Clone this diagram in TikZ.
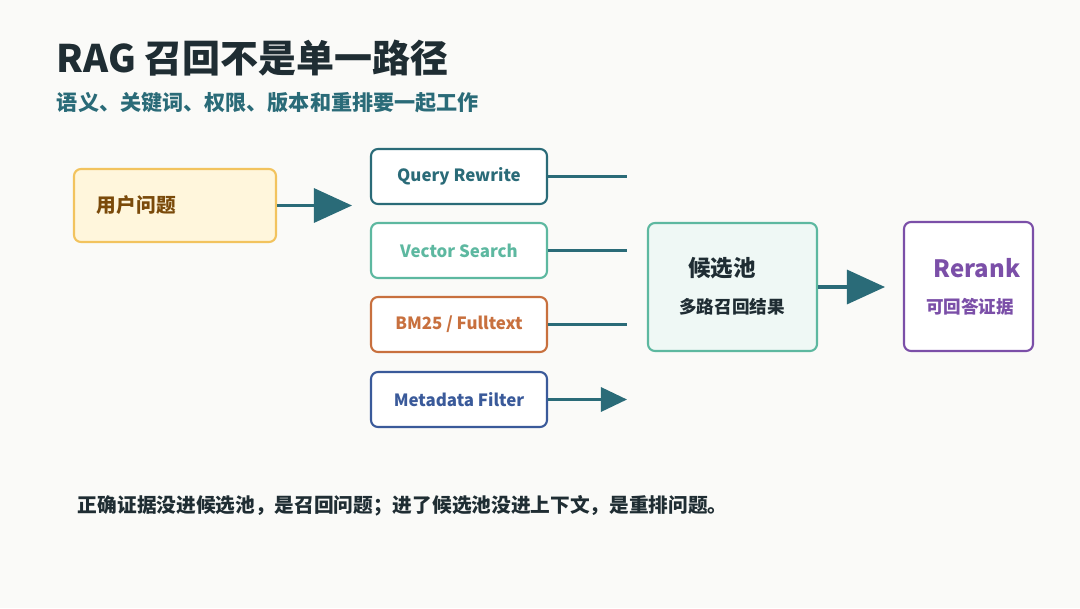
\documentclass[tikz,border=0pt]{standalone}
\usepackage{fontspec}
\setmainfont{Noto Sans CJK SC}
\usepackage{tikz}
\usetikzlibrary{arrows.meta, positioning}
\definecolor{bgc}{HTML}{FAFAF8}
\definecolor{ink}{HTML}{1F2D33}
\definecolor{teal}{HTML}{2A6B78}
\definecolor{mint}{HTML}{5DB8A0}
\definecolor{rust}{HTML}{C8703E}
\definecolor{navy}{HTML}{3A5A9A}
\definecolor{plum}{HTML}{7B4FA8}
\definecolor{sand}{HTML}{F2C35E}
\definecolor{cream}{HTML}{FFF6DC}
\definecolor{umber}{HTML}{7A4A0A}
\tikzstyle{box}=[rectangle, rounded corners=5pt, line width=1.5pt, fill=white, font=\bfseries\fontsize{12}{14}\selectfont]
\tikzstyle{route}=[box, minimum width=4.4cm, minimum height=1.375cm]
\tikzstyle{link}=[draw=teal, line width=2.2pt]
\tikzstyle{post}=[link, -{Triangle[length=0.95cm, width=0.85cm]}]

\begin{document}
\begin{tikzpicture}[x=0.025cm, y=-0.025cm]
				\fill[bgc] (0,0) rectangle (1080,608);
				\node[anchor=west, text=ink, font=\bfseries\fontsize{27}{31}\selectfont] (title) at (52,58) {RAG 召回不是单一路径};
				\node[anchor=west, text=teal, font=\bfseries\fontsize{15}{18}\selectfont] (sub) at (52,103) {语义、关键词、权限、版本和重排要一起工作};

				\node[box, draw=sand, fill=cream, text=umber, font=\bfseries\fontsize{14}{17}\selectfont, minimum width=5.05cm, minimum height=1.825cm, text width=3.9cm] (ask) at (175,205.5) {用户问题};
				\node[route, draw=teal, text=teal] (qr) at (459,176.5) {Query Rewrite};
				\node[route, draw=mint, text=mint] (vs) at (459,250.5) {Vector Search};
				\node[route, draw=rust, text=rust] (bm) at (459,324.5) {BM25 / Fulltext};
				\node[route, draw=navy, text=navy] (md) at (459,399.5) {Metadata Filter};
				\node[box, draw=mint, fill=mint!10, minimum width=4.225cm, minimum height=3.2cm] (pool) at (732.5,287) {};
				\node[text=ink, font=\bfseries\fontsize{16}{19}\selectfont] (pooltitle) at (722,268) {候选池};
				\node[text=ink, font=\bfseries\fontsize{12.5}{15}\selectfont] (poolsub) at (732,307) {多路召回结果};
				\node[box, draw=plum, minimum width=3.225cm, minimum height=3.225cm] (rr) at (968.5,286.5) {};
				\node[text=plum, font=\bfseries\fontsize{17}{20}\selectfont] (rrtitle) at (977,268) {Rerank};
				\node[text=plum, font=\bfseries\fontsize{12.5}{15}\selectfont] (rrsub) at (970,307) {可回答证据};

				\coordinate (e0) at (352,205.5);
				\coordinate (e1) at (627,176.5);
				\coordinate (e2) at (627,250.5);
				\coordinate (e3) at (627,324.5);
				\coordinate (e4) at (627,399.5);
				\coordinate (e5) at (885,287);
				\draw[post] (ask.east) -- (e0);
				\draw[link] (qr.east) -- (e1);
				\draw[link] (vs.east) -- (e2);
				\draw[link] (bm.east) -- (e3);
				\draw[post, -{Triangle[length=0.65cm, width=0.6cm]}] (md.east) -- (e4);
				\draw[post] (pool.east) -- (e5);

				\node[anchor=west, text=ink, font=\bfseries\fontsize{14}{17}\selectfont] (note) at (73,506) {正确证据没进候选池，是召回问题；进了候选池没进上下文，是重排问题。};
			\end{tikzpicture}
\end{document}
